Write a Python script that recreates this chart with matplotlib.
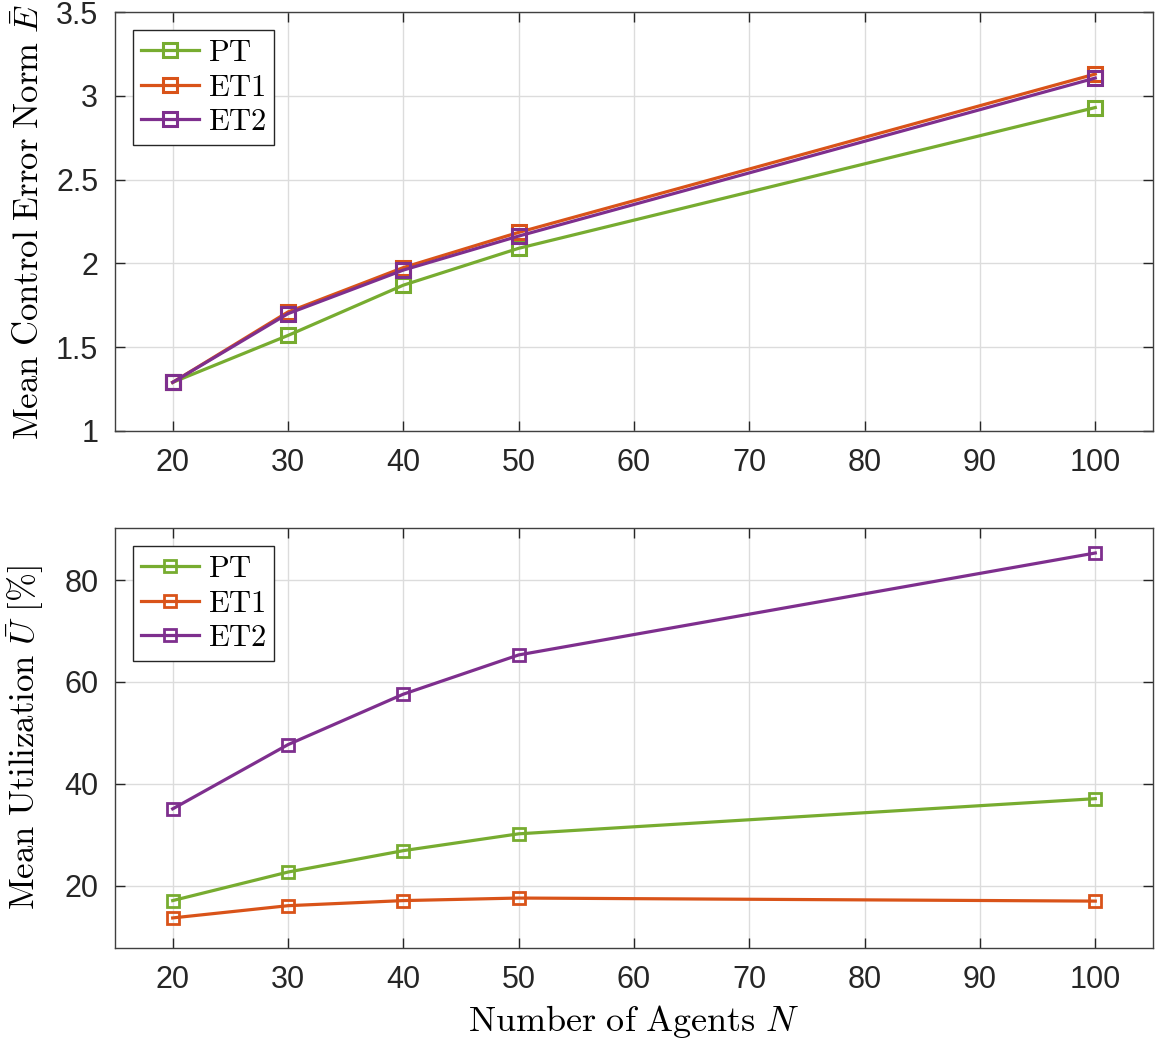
import numpy as np
import matplotlib
matplotlib.use("Agg")
import matplotlib.pyplot as plt
from matplotlib.ticker import FuncFormatter

plt.rcParams['font.family'] = ['Liberation Sans', 'DejaVu Sans']
plt.rcParams['mathtext.fontset'] = 'cm'

N = [20, 30, 40, 50, 100]
labels = ["PT", "ET1", "ET2"]
colors = ["#77AC30", "#D95319", "#7E2F8E"]

err_PT = [1.29, 1.57, 1.87, 2.09, 2.93]
err_ET1 = [1.29, 1.71, 1.975, 2.185, 3.13]
err_ET2 = [1.29, 1.70, 1.96, 2.163, 3.106]

util_PT = [17.1, 22.7, 26.9, 30.2, 37.1]
util_ET1 = [13.7, 16.1, 17.1, 17.6, 17.0]
util_ET2 = [35.1, 47.7, 57.6, 65.3, 85.3]

fig = plt.figure(figsize=(11.57, 10.46), dpi=100)
ax1 = fig.add_axes([0.0994, 0.588, 0.8971, 0.4005])
ax2 = fig.add_axes([0.0994, 0.0937, 0.8971, 0.4015])

def style(ax):
    ax.set_xlim(15, 105)
    ax.set_xticks([20, 30, 40, 50, 60, 70, 80, 90, 100])
    ax.grid(True, color="#dcdcdc", linewidth=1)
    ax.set_axisbelow(True)
    ax.tick_params(direction="in", top=True, right=True, labelsize=22,
                   length=7, width=1, colors="#262626", pad=12)
    for s in ax.spines.values():
        s.set_color("#404040")
        s.set_linewidth(1)
    ax.yaxis.set_major_formatter(FuncFormatter(lambda v, p: "%g" % v))
    leg = ax.legend(loc="upper left", fontsize=22, fancybox=False, framealpha=1,
                    edgecolor="#262626", handlelength=1.9, borderpad=0.25,
                    labelspacing=0.15, handletextpad=0.3, borderaxespad=0.6)
    leg.get_frame().set_linewidth(1)

for y, lab, c in zip([err_PT, err_ET1, err_ET2], labels, colors):
    ax1.plot(N, y, color=c, lw=2.3, marker="s", ms=10, mfc="none", mew=2.2,
             label=r"$\mathrm{%s}$" % lab)
ax1.set_ylim(1, 3.5)
ax1.set_yticks([1, 1.5, 2, 2.5, 3, 3.5])
ax1.set_ylabel(r"$\mathrm{Mean\ Control\ Error\ Norm}\ \bar{E}$", fontsize=25,
               labelpad=7)
style(ax1)

for y, lab, c in zip([util_PT, util_ET1, util_ET2], labels, colors):
    ax2.plot(N, y, color=c, lw=2.3, marker="s", ms=8.5, mfc="none", mew=2,
             label=r"$\mathrm{%s}$" % lab)
ax2.set_ylim(7.8, 90.2)
ax2.set_yticks([20, 40, 60, 80])
ax2.set_ylabel(r"$\mathrm{Mean\ Utilization}\ \bar{U}\ [\%]$", fontsize=25,
               labelpad=13)
ax2.set_xlabel(r"$\mathrm{Number\ of\ Agents}\ N$", fontsize=26, labelpad=6)
style(ax2)

fig.savefig("out.png", dpi=100)
